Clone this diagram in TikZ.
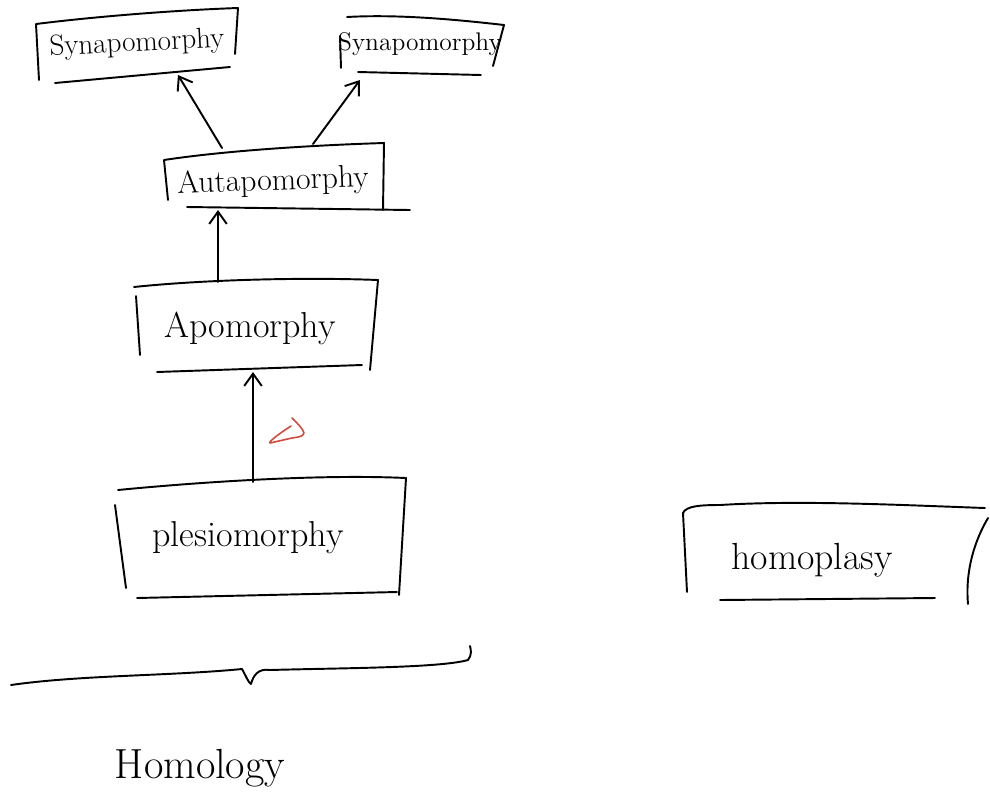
\documentclass[tikz,border=0pt]{standalone}
\usetikzlibrary{arrows.meta}
\definecolor{inkred}{RGB}{205,75,60}
\begin{document}
\begin{tikzpicture}[x=0.02cm,y=-0.02cm,
  pen/.style={line width=1.1pt, line cap=round, line join=round},
  lbl/.style={inner sep=0pt, font=\fontsize{18}{21}\selectfont},
  up/.style={pen,-{Straight Barb[length=7pt,width=10pt]}}]
\path[use as bounding box] (0,0) rectangle (990,809);

% labels
\node[lbl, rotate=3, font=\fontsize{16.5}{19}\selectfont] (syn1) at (137,44) {Synapomorphy};
\node[lbl, font=\fontsize{14.5}{17}\selectfont] (syn2) at (420,44) {Synapomorphy};
\node[lbl, rotate=2] (auta) at (273,182) {Autapomorphy};
\node[lbl, font=\fontsize{20.5}{24}\selectfont] (apo) at (250,328) {Apomorphy};
\node[lbl, font=\fontsize{20.5}{24}\selectfont] (ples) at (248,538) {plesiomorphy};
\node[lbl, font=\fontsize{21.5}{25}\selectfont] (homo) at (812,560) {homoplasy};
\node[lbl, font=\fontsize{24}{28}\selectfont] (hom) at (200,768) {Homology};

% box strokes
\draw[pen] (39,80) -- (36,24) .. controls (100,16) and (180,10) .. (238,8) -- (235,54);
\draw[pen] (55,83) -- (230,67);
\draw[pen] (341,68) -- (340,36);
\draw[pen] (347,17) .. controls (400,14) and (460,20) .. (504,25) -- (493,66);
\draw[pen] (358,72) -- (481,75);
\draw[pen] (168,200) -- (164,160) .. controls (230,150) and (320,145) .. (384,143) -- (383,210);
\draw[pen] (187,207) -- (410,210);
\draw[pen] (140,355) -- (136,296);
\draw[pen] (134,287) .. controls (200,280) and (300,277) .. (378,280) -- (370,370);
\draw[pen] (157,372) -- (362,365);
\draw[pen] (126,588) -- (115,505);
\draw[pen] (118,490) .. controls (200,482) and (320,474) .. (406,478) -- (399,595);
\draw[pen] (137,598) -- (397,592);
\draw[pen] (687,592) -- (683,513) .. controls (686,506) and (700,505) .. (720,505) .. controls (800,500) and (900,505) .. (985,508);
\draw[pen] (988,518) .. controls (975,540) and (965,570) .. (968,604);
\draw[pen] (720,600) -- (935,598);

% edge points of the boxes
\coordinate (syn1b) at (178,75);
\coordinate (syn2b) at (360,80);
\coordinate (autat1) at (222,148);
\coordinate (autat2) at (313,144);
\coordinate (autab) at (218,210);
\coordinate (apot) at (218,282);
\coordinate (apob) at (253,372);
\coordinate (plest) at (253,482);

% arrows
\draw[up] (autat1) -- (syn1b);
\draw[up] (autat2) -- (syn2b);
\draw[up] (apot) -- (autab);
\draw[up] (plest) -- (apob);

% small red mark
\draw[pen, inkred, line width=0.9pt] (292,418) .. controls (298,424) and (303,429) .. (304,433) .. controls (303,437) and (298,437) .. (292,438) -- (270,443) .. controls (268,442) and (280,433) .. (291,426);

% brace over the homology group
\draw[pen] (11,685) .. controls (80,675) and (170,676) .. (242,669) .. controls (246,676) and (248,682) .. (251,684) .. controls (253,676) and (258,668) .. (270,670) .. controls (340,668) and (440,668) .. (468,660) .. controls (472,655) and (471,650) .. (470,646);
\end{tikzpicture}
\end{document}
